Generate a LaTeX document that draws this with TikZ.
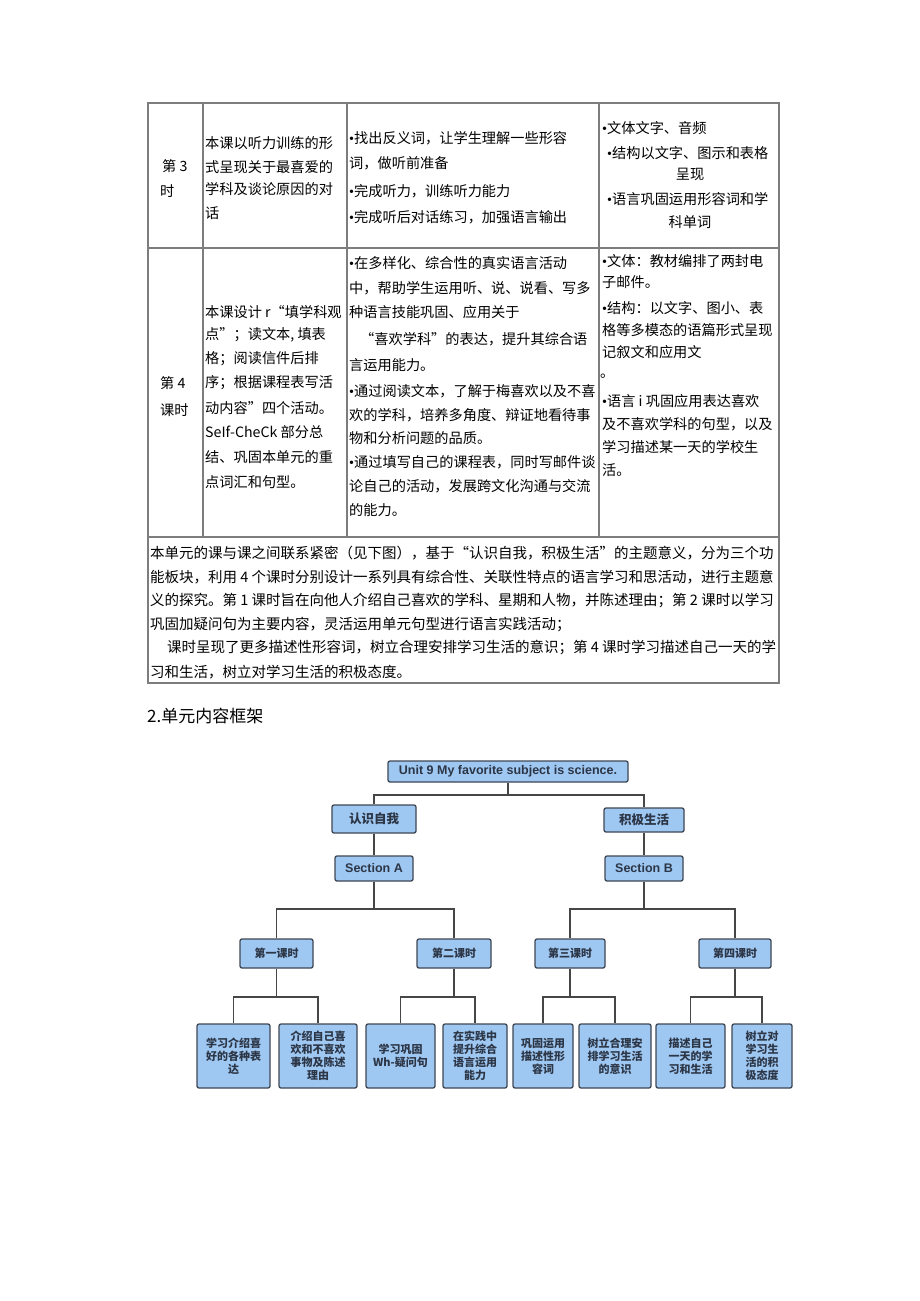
\documentclass[tikz,border=0pt]{standalone}
\usepackage{fontspec}
\setmainfont{Noto Sans CJK SC}
\newfontfamily\latinb{Liberation Sans}
\newfontfamily\bulfont{Liberation Serif}
\newcommand\bul{{\bulfont •}}
\definecolor{boxfill}{RGB}{158,199,242}
\definecolor{boxborder}{RGB}{62,70,84}
\definecolor{boxtext}{RGB}{44,54,70}
\definecolor{tabline}{RGB}{125,125,125}
\definecolor{connc}{RGB}{70,70,70}
\newcounter{tlc}
\newcommand\tl[3]{\stepcounter{tlc}\node[tline] (tl\arabic{tlc}) at (#1,#2) {#3};}
\newcommand\tc[3]{\stepcounter{tlc}\node[tline,anchor=center] (tl\arabic{tlc}) at (#1,#2) {#3};}
\newcommand\pl[3]{\stepcounter{tlc}\node[tline,font=\fontsize{14.5}{17}\selectfont] (tl\arabic{tlc}) at (#1,#2) {#3};}
\begin{document}
\begin{tikzpicture}[x=1pt,y=-1pt,
  tline/.style={anchor=west,inner sep=0pt,font=\fontsize{14.2}{17}\selectfont,text=black},
  tab/.style={draw=tabline,line width=1.2pt},
  ubox/.style={draw=boxborder,fill=boxfill,rounded corners=2pt,line width=1.3pt,text=boxtext,align=center,inner sep=0pt},
  ltext/.style={font=\bfseries\fontsize{12.5}{14}\selectfont\latinb},
  ctext/.style={font=\bfseries\fontsize{12.5}{14}\selectfont},
  ktext/.style={font=\bfseries\fontsize{11}{13}\selectfont},
  conn/.style={draw=connc,line width=1.2pt}]
\useasboundingbox (0,0) rectangle (920,1301);
\fill[white] (0,0) rectangle (920,1301);
% table grid
\draw[tab] (148,103) rectangle (779,683);
\draw[tab] (148,248) -- (779,248);
\draw[tab] (148,537) -- (779,537);
\draw[tab] (203,103) -- (203,537);
\draw[tab] (347,103) -- (347,537);
\draw[tab] (599,103) -- (599,537);
% row 1
\tl{162}{166}{第 3}
\tl{160}{191}{时}
\tl{205}{143}{本课以听力训练的形}
\tl{205}{167}{式呈现关于最喜爱的}
\tl{205}{189}{学科及谈论原因的对}
\tl{205}{213}{话}
\tl{349}{138}{\bul 找出反义词，让学生理解一些形容}
\tl{349}{163}{词，做听前准备}
\tl{349}{191}{\bul 完成听力，训练听力能力}
\tl{349}{217}{\bul 完成听后对话练习，加强语言输出}
\tl{602}{128}{\bul 文体文字、音频}
\tl{607}{153}{\bul 结构以文字、图示和表格}
\tc{690}{174}{呈现}
\tl{607}{199}{\bul 语言巩固运用形容词和学}
\tc{690}{222}{科单词}
% row 2
\tl{160}{383}{第 4}
\tl{160}{410}{课时}
\tl{205}{312}{本课设计 r“填学科观}
\tl{205}{335}{点”；读文本, 填表}
\tl{205}{359}{格；阅读信件后排}
\tl{205}{383}{序；根据课程表写活}
\tl{205}{408}{动内容”四个活动。}
\tl{205}{432}{SeIf-CheCk 部分总}
\tl{205}{457}{结、巩固本单元的重}
\tl{205}{482}{点词汇和句型。}
\tl{349}{263}{\bul 在多样化、综合性的真实语言活动}
\tl{349}{288}{中，帮助学生运用听、说、说看、写多}
\tl{349}{312}{种语言技能巩固、应用关于}
\tl{360}{339}{“喜欢学科”的表达，提升其综合语}
\tl{349}{365}{言运用能力。}
\tl{349}{391}{\bul 通过阅读文本，了解于梅喜欢以及不喜}
\tl{349}{415}{欢的学科，培养多角度、辩证地看待事}
\tl{349}{438}{物和分析问题的品质。}
\tl{349}{462}{\bul 通过填写自己的课程表，同时写邮件谈}
\tl{349}{486}{论自己的活动，发展跨文化沟通与交流}
\tl{349}{510}{的能力。}
\tl{602}{261}{\bul 文体：教材编排了两封电}
\tl{602}{282}{子邮件。}
\tl{602}{308}{\bul 结构：以文字、图小、表}
\tl{602}{330}{格等多模态的语篇形式呈现}
\tl{602}{352}{记叙文和应用文}
\tl{600}{376}{。}
\tl{602}{401}{\bul 语言 i 巩固应用表达喜欢}
\tl{602}{424}{及不喜欢学科的句型，以及}
\tl{602}{447}{学习描述某一天的学校生}
\tl{602}{470}{活。}
% row 3
\pl{150}{553}{本单元的课与课之间联系紧密（见下图），基于“认识自我，积极生活”的主题意义，分为三个功}
\pl{150}{577}{能板块，利用 4 个课时分别设计一系列具有综合性、关联性特点的语言学习和思活动，进行主题意}
\pl{150}{601}{义的探究。第 1 课时旨在向他人介绍自己喜欢的学科、星期和人物，并陈述理由；第 2 课时以学习}
\pl{150}{625}{巩固加疑问句为主要内容，灵活运用单元句型进行语言实践活动；}
\pl{167}{648}{课时呈现了更多描述性形容词，树立合理安排学习生活的意识；第 4 课时学习描述自己一天的学}
\pl{150}{672}{习和生活，树立对学习生活的积极态度。}
% heading
\node[anchor=west,inner sep=0pt,font=\fontsize{17}{20}\selectfont] (head) at (147,716) {2.单元内容框架};
% diagram boxes
\node[ubox,ltext,minimum width=240,minimum height=21] (top) at (508,771.5) {Unit 9 My favorite subject is science.};
\node[ubox,ctext,minimum width=84,minimum height=28] (rz) at (374,819) {认识自我};
\node[ubox,ctext,minimum width=80,minimum height=24] (jj) at (644,820) {积极生活};
\node[ubox,ltext,minimum width=78,minimum height=25] (sa) at (374,868.5) {Section A};
\node[ubox,ltext,minimum width=78,minimum height=25] (sb) at (644,868.5) {Section B};
\node[ubox,ktext,minimum width=73,minimum height=29] (c1) at (276.5,953.5) {第一课时};
\node[ubox,ktext,minimum width=74,minimum height=29] (c2) at (454,953.5) {第二课时};
\node[ubox,ktext,minimum width=70,minimum height=29] (c3) at (570,953.5) {第三课时};
\node[ubox,ktext,minimum width=72,minimum height=29] (c4) at (735,953.5) {第四课时};
\node[ubox,ktext,minimum width=73,minimum height=64] (l1) at (233.5,1056) {学习介绍喜\\好的各种表\\达};
\node[ubox,ktext,minimum width=78,minimum height=64] (l2) at (318,1056) {介绍自己喜\\欢和不喜欢\\事物及陈述\\理由};
\node[ubox,ktext,minimum width=69,minimum height=64] (l3) at (400.5,1056) {学习巩固\\Wh-疑问句};
\node[ubox,ktext,minimum width=64,minimum height=64] (l4) at (475,1056) {在实践中\\提升综合\\语言运用\\能力};
\node[ubox,ktext,minimum width=60,minimum height=64] (l5) at (543,1056) {巩固运用\\描述性形\\容词};
\node[ubox,ktext,minimum width=72,minimum height=64] (l6) at (615,1056) {树立合理安\\排学习生活\\的意识};
\node[ubox,ktext,minimum width=69,minimum height=64] (l7) at (690.5,1056) {描述自己\\一天的学\\习和生活};
\node[ubox,ktext,minimum width=60,minimum height=64] (l8) at (762,1056) {树立对\\学习生\\活的积\\极态度};
% connectors
\coordinate (j1) at (508,795);
\coordinate (j2) at (374,909);
\coordinate (j3) at (644,909);
\coordinate (j4) at (276.5,997);
\coordinate (j5) at (454,997);
\coordinate (j6) at (570,997);
\coordinate (j7) at (735,997);
\draw[conn] (top.south) -- (j1);
\draw[conn] (rz.north) |- (j1) -| (jj.north);
\draw[conn] (rz.south) -- (sa.north);
\draw[conn] (jj.south) -- (sb.north);
\draw[conn] (sa.south) -- (j2);
\draw[conn] (c1.north) |- (j2) -| (c2.north);
\draw[conn] (sb.south) -- (j3);
\draw[conn] (c3.north) |- (j3) -| (c4.north);
\draw[conn] (c1.south) -- (j4);
\draw[conn] (l1.north) |- (j4) -| (l2.north);
\draw[conn] (c2.south) -- (j5);
\draw[conn] (l3.north) |- (j5) -| (l4.north);
\draw[conn] (c3.south) -- (j6);
\draw[conn] (l5.north) |- (j6) -| (l6.north);
\draw[conn] (c4.south) -- (j7);
\draw[conn] (l7.north) |- (j7) -| (l8.north);
\end{tikzpicture}
\end{document}
